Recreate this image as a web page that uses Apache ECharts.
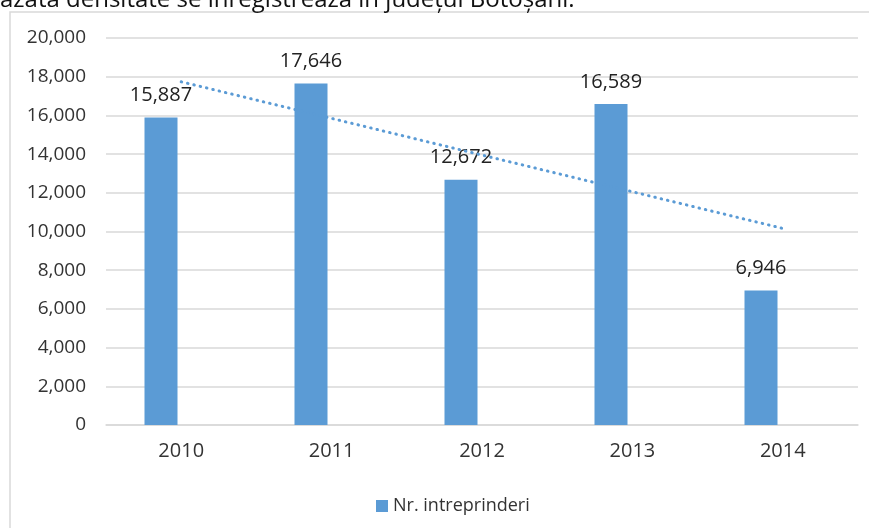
<!DOCTYPE html>
<html>
<head>
<meta charset="utf-8">
<script src="https://cdn.jsdelivr.net/npm/echarts@6/dist/echarts.min.js"></script>
<style>
html,body{margin:0;padding:0;background:#fff;}
#c{width:869px;height:528px;}
</style>
</head>
<body>
<div id="c"></div>
<script>
var categories = ['2010', '2011', '2012', '2013', '2014'];
var intreprinderi = [15887, 17646, 12672, 16589, 6946];
var trendValues = [17740, 15846, 13950, 12055, 10160];
var yTicks = [0, 2000, 4000, 6000, 8000, 10000, 12000, 14000, 16000, 18000, 20000];
var seriesName = 'Nr. intreprinderi';
var topText = 'azată densitate se înregistrează în județul Botoșani.';

var FONT = '"Open Sans", "Noto Sans", sans-serif';
var BLUE = '#5b9bd5';
function fmt(v){ return v.toString().replace(/\B(?=(\d{3})+(?!\d))/g, ','); }

var chart = echarts.init(document.getElementById('c'), null, {renderer:'canvas'});
chart.setOption({
  backgroundColor: '#fff',
  animation: false,
  textStyle: {fontFamily: FONT},
  graphic: [
    {type:'rect', shape:{x:10, y:12, width:880, height:540}, style:{fill:'none', stroke:'#d9d9d9', lineWidth:1.5}, silent:true, z:-10},
    {type:'text', x:0, y:0, style:{text: topText, font:'24px ' + FONT, fill:'#111', textVerticalAlign:'middle'}}
  ],
  grid: [
    {left:106, right:11, top:38, bottom:103},
    {left:86, right:33, top:38, bottom:103}
  ],
  legend: {
    data: [seriesName],
    left: 371, top: 492,
    itemWidth: 12, itemHeight: 12,
    icon: 'rect',
    textStyle: {fontSize: 18, color: '#333', fontFamily: FONT},
    selectedMode: false
  },
  xAxis: [
    {type:'category', gridIndex:0, data:categories,
     axisLine:{lineStyle:{color:'#d9d9d9', width:1.5}}, axisTick:{show:false},
     axisLabel:{color:'#333', fontSize:20, margin:16, fontFamily:FONT}},
    {type:'category', gridIndex:1, data:categories, show:false}
  ],
  yAxis: [
    {type:'value', gridIndex:0, min:yTicks[0], max:yTicks[yTicks.length-1], interval:2000,
     axisLine:{show:false}, axisTick:{show:false},
     splitLine:{lineStyle:{color:'#d9d9d9', width:1.5}},
     axisLabel:{color:'#333', fontSize:19, margin:20, fontFamily:FONT, formatter:function(v){return fmt(v);}}},
    {type:'value', gridIndex:1, min:yTicks[0], max:yTicks[yTicks.length-1], interval:2000, show:false}
  ],
  series: [
    {name: seriesName, type:'bar', xAxisIndex:1, yAxisIndex:1, data:intreprinderi, barWidth:33,
     itemStyle:{color:BLUE},
     label:{show:true, position:'top', distance:12, color:'#222', fontSize:20, fontFamily:FONT,
            formatter:function(p){return fmt(p.value);}}},
    {name:'trend', type:'line', xAxisIndex:0, yAxisIndex:0, data:trendValues, symbol:'none',
     lineStyle:{color:BLUE, width:3, type:[0.5,6], cap:'round'}, z:3}
  ]
});
</script>
</body>
</html>
